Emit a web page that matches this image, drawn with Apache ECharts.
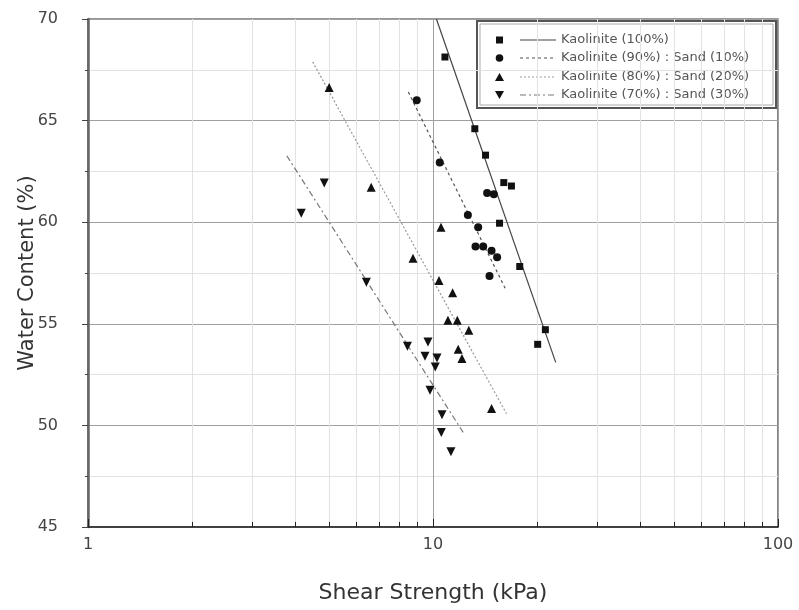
<!DOCTYPE html>
<html>
<head>
<meta charset="utf-8">
<script src="https://cdn.jsdelivr.net/npm/echarts@6/dist/echarts.min.js"></script>
<style>
html, body { margin: 0; padding: 0; background: #fff; }
#main { width: 799px; height: 610px; }
</style>
</head>
<body>
<div id="main"></div>
<script>
// 名称
var names = ['Kaolinite (100%)', 'Kaolinite (90%) : Sand (10%)', 'Kaolinite (80%) : Sand (20%)', 'Kaolinite (70%) : Sand (30%)'];

// 散点数据 (剪切强度 kPa, 含水量 %)
var x100 = [10.83, 13.22, 14.2, 16.04, 16.88, 15.59, 17.84, 21.17, 20.11];
var y100 = [68.13, 64.6, 63.3, 61.95, 61.78, 59.95, 57.82, 54.71, 53.99];
var x90 = [8.97, 10.46, 14.35, 15.01, 12.62, 13.52, 13.28, 13.98, 14.78, 15.34, 14.58];
var y90 = [66.0, 62.94, 61.44, 61.37, 60.36, 59.75, 58.8, 58.8, 58.59, 58.28, 57.35];
var x80 = [5.0, 6.62, 10.55, 8.75, 10.41, 11.4, 11.05, 11.76, 12.7, 11.83, 12.13, 14.78];
var y80 = [66.63, 61.72, 59.75, 58.23, 57.13, 56.53, 55.17, 55.17, 54.68, 53.75, 53.29, 50.83];
var x70 = [4.84, 4.15, 6.41, 9.67, 8.43, 9.48, 10.27, 10.15, 9.8, 10.62, 10.57, 11.27];
var y70 = [61.93, 60.44, 57.05, 54.1, 53.89, 53.4, 53.32, 52.88, 51.73, 50.53, 49.65, 48.7];

// 拟合线端点
var fitX100 = [10.23, 22.68], fitY100 = [70, 53.1];
var fitX90 = [8.48, 16.22], fitY90 = [66.41, 56.72];
var fitX80 = [4.48, 16.33], fitY80 = [67.89, 50.58];
var fitX70 = [3.77, 12.29], fitY70 = [63.27, 49.6];

// 对数轴次刻度
var minorX = [2, 3, 4, 5, 6, 7, 8, 9, 20, 30, 40, 50, 60, 70, 80, 90];

function pairs(xs, ys) {
	return xs.map(function (v, i) { return [v, ys[i]]; });
}

var downTri = 'path://M0,0 L10,0 L5,9 Z';
var font = '"DejaVu Sans", sans-serif';

var myChart = echarts.init(document.getElementById('main'));

var lineStyles = [
	{ color: '#444', width: 1.2, type: 'solid' },
	{ color: '#555', width: 1.2, type: [3, 3] },
	{ color: '#999', width: 1.2, type: [2, 2] },
	{ color: '#777', width: 1.2, type: [6, 3, 2, 3] }
];
var symbols = ['rect', 'circle', 'triangle', downTri];

// 图例 (graphic)
var legendItems = [];
legendItems.push({
	type: 'rect', shape: { x: 477, y: 21, width: 299, height: 87 },
	style: { fill: '#fff', stroke: '#555', lineWidth: 2 }
});
legendItems.push({
	type: 'rect', shape: { x: 480, y: 24, width: 293, height: 81 },
	style: { fill: 'none', stroke: '#aaa', lineWidth: 1 }
});
var rowsY = [40, 58, 77, 95];
for (var i = 0; i < 4; i++) {
	var ry = rowsY[i];
	var marker;
	if (i === 0) {
		marker = { type: 'rect', shape: { x: 496, y: ry - 3.5, width: 7, height: 7 }, style: { fill: '#111' } };
	} else if (i === 1) {
		marker = { type: 'circle', shape: { cx: 499.5, cy: ry, r: 3.8 }, style: { fill: '#111' } };
	} else if (i === 2) {
		marker = { type: 'polygon', shape: { points: [[495, ry + 4], [504, ry + 4], [499.5, ry - 4]] }, style: { fill: '#111' } };
	} else {
		marker = { type: 'polygon', shape: { points: [[495, ry - 4], [504, ry - 4], [499.5, ry + 4]] }, style: { fill: '#111' } };
	}
	legendItems.push(marker);
	legendItems.push({
		type: 'line', shape: { x1: 520, y1: ry, x2: 556, y2: ry },
		style: { stroke: lineStyles[i].color, lineWidth: 1.2, lineDash: lineStyles[i].type === 'solid' ? null : lineStyles[i].type }
	});
	legendItems.push({
		type: 'text', x: 561, y: ry,
		style: { text: names[i], fill: '#555', font: '13px ' + font, verticalAlign: 'middle' }
	});
}

var series = [];
// 次网格线
series.push({
	type: 'scatter', data: [], silent: true, z: 1,
	markLine: {
		silent: true, symbol: 'none', label: { show: false }, z: 1,
		lineStyle: { color: '#e2e2e2', width: 1, type: 'solid' },
		data: minorX.map(function (v) { return { xAxis: v }; })
	}
});
// 底部次刻度
series.push({
	type: 'scatter', data: [], silent: true, z: 3,
	markLine: {
		silent: true, symbol: 'none', label: { show: false }, z: 3,
		lineStyle: { color: '#222', width: 1, type: 'solid' },
		data: minorX.map(function (v) { return [{ coord: [v, 45] }, { coord: [v, 45.25] }]; })
	}
});
var fits = [[fitX100, fitY100], [fitX90, fitY90], [fitX80, fitY80], [fitX70, fitY70]];
var pts = [[x100, y100], [x90, y90], [x80, y80], [x70, y70]];
for (var k = 0; k < 4; k++) {
	series.push({
		name: names[k] + ' fit', type: 'line', symbol: 'none', silent: true, z: 2,
		lineStyle: lineStyles[k],
		data: pairs(fits[k][0], fits[k][1])
	});
}
for (var k = 0; k < 4; k++) {
	series.push({
		name: names[k], type: 'scatter', z: 4,
		symbol: symbols[k], symbolSize: k === 0 ? 7 : (k === 1 ? 8 : 9),
		itemStyle: { color: '#111', opacity: 1 },
		data: pairs(pts[k][0], pts[k][1])
	});
}

option = {
	backgroundColor: '#fff',
	animation: false,
	textStyle: { fontFamily: font },
	grid: {
		left: 88, right: 21, top: 19, bottom: 83,
		show: true, borderColor: '#333', borderWidth: 1.2
	},
	xAxis: {
		type: 'log', logBase: 10, min: 1, max: 100,
		name: 'Shear Strength (kPa)', nameLocation: 'middle', nameGap: 55, nameMoveOverlap: false,
		nameTextStyle: { fontSize: 22, color: '#333', fontFamily: font },
		axisLine: { show: true, onZero: false, lineStyle: { color: '#222', width: 1.5 } },
		axisTick: { show: true, inside: true, length: 8, lineStyle: { color: '#222' } },
		axisLabel: { fontSize: 16, color: '#444', margin: 10, fontFamily: font },
		splitLine: { show: true, lineStyle: { color: '#a0a0a0', width: 1 } }
	},
	yAxis: {
		type: 'value', min: 45, max: 70, interval: 5,
		name: 'Water Content (%)', nameLocation: 'middle', nameGap: 50, nameMoveOverlap: false,
		nameTextStyle: { fontSize: 21, color: '#333', fontFamily: font },
		axisLine: { show: true, lineStyle: { color: '#666', width: 2.5 } },
		axisTick: { show: true, length: 6, lineStyle: { color: '#444' } },
		minorTick: { show: true, splitNumber: 2, length: 3, lineStyle: { color: '#444' } },
		minorSplitLine: { show: true, lineStyle: { color: '#e2e2e2' } },
		axisLabel: { fontSize: 16, color: '#444', margin: 30, fontFamily: font },
		splitLine: { show: true, lineStyle: { color: '#a0a0a0', width: 1 } }
	},
	graphic: [{ type: 'group', z: 100, children: legendItems }],
	series: series
};

myChart.setOption(option);
</script>
</body>
</html>
